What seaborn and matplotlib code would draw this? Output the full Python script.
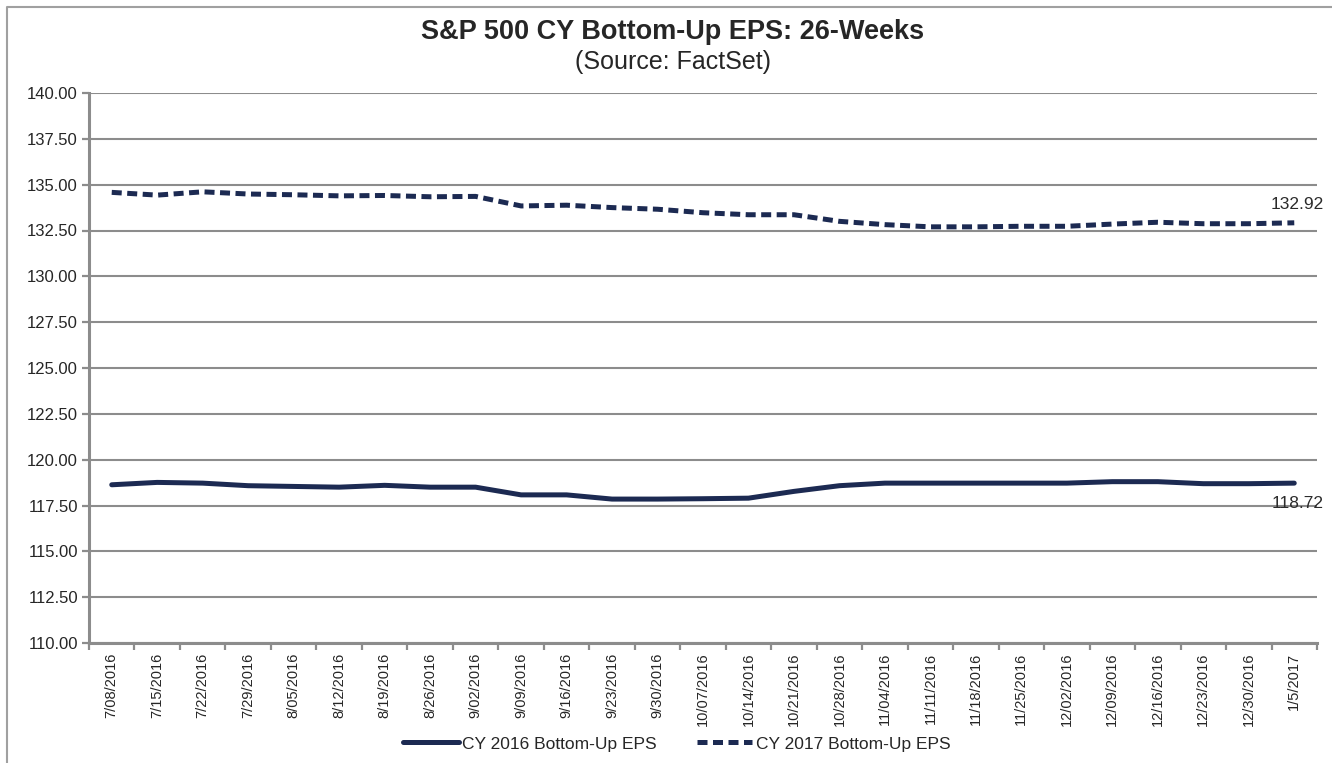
"""S&P 500 calendar-year bottom-up EPS over 26 weeks."""
import matplotlib
matplotlib.use('Agg')
import matplotlib.pyplot as plt
from matplotlib.lines import Line2D
from matplotlib.ticker import FixedLocator, NullFormatter
import pandas as pd
import seaborn as sns

WEEKS = ['7/08/2016', '7/15/2016', '7/22/2016', '7/29/2016', '8/05/2016',
         '8/12/2016', '8/19/2016', '8/26/2016', '9/02/2016', '9/09/2016',
         '9/16/2016', '9/23/2016', '9/30/2016', '10/07/2016', '10/14/2016',
         '10/21/2016', '10/28/2016', '11/04/2016', '11/11/2016', '11/18/2016',
         '11/25/2016', '12/02/2016', '12/09/2016', '12/16/2016', '12/23/2016',
         '12/30/2016', '1/5/2017']

EPS_2016 = [118.63, 118.76, 118.72, 118.58, 118.54, 118.50, 118.60, 118.50,
            118.50, 118.08, 118.08, 117.85, 117.85, 117.87, 117.90, 118.27,
            118.58, 118.72, 118.72, 118.72, 118.72, 118.72, 118.80, 118.80,
            118.69, 118.69, 118.72]

EPS_2017 = [134.58, 134.43, 134.61, 134.49, 134.45, 134.39, 134.41, 134.34,
            134.36, 133.84, 133.88, 133.75, 133.66, 133.47, 133.36, 133.36,
            133.00, 132.82, 132.70, 132.70, 132.73, 132.73, 132.85, 132.95,
            132.87, 132.87, 132.92]

LABEL_2016 = 'CY 2016 Bottom-Up EPS'
LABEL_2017 = 'CY 2017 Bottom-Up EPS'
Y_TICKS = [110.0 + 2.5 * i for i in range(13)]

NAVY = '#1c2a52'
GRID = '#8c8c8c'

sns.set_theme(style='white')
plt.rcParams['font.family'] = ['Liberation Sans', 'DejaVu Sans']

df = pd.concat([
    pd.DataFrame({'week': WEEKS, 'pos': range(len(WEEKS)),
                  'eps': EPS_2016, 'series': LABEL_2016}),
    pd.DataFrame({'week': WEEKS, 'pos': range(len(WEEKS)),
                  'eps': EPS_2017, 'series': LABEL_2017}),
])

fig = plt.figure(figsize=(13.32, 7.63), dpi=100)
ax = fig.add_axes([89 / 1332, 1 - 643 / 763, (1317 - 89) / 1332, 550 / 763])

sns.lineplot(data=df, x='pos', y='eps', hue='series', style='series',
             palette={LABEL_2016: NAVY, LABEL_2017: NAVY},
             dashes={LABEL_2016: '', LABEL_2017: (2.0, 1.1)},
             linewidth=3.6, ax=ax, legend=True)

n = len(WEEKS)
ax.set_xlim(-0.5, n - 0.5)
ax.set_ylim(Y_TICKS[0], Y_TICKS[-1])
ax.set_yticks(Y_TICKS)
ax.set_yticklabels([f'{v:.2f}' for v in Y_TICKS], fontsize=12)
ax.set_xticks(range(n))
ax.set_xticklabels(WEEKS, rotation=90, fontsize=10.5, va='top')
ax.xaxis.set_minor_locator(FixedLocator([i - 0.5 for i in range(n + 1)]))
ax.xaxis.set_minor_formatter(NullFormatter())
ax.tick_params(axis='x', which='major', length=0, pad=7)
ax.tick_params(axis='x', which='minor', length=5, width=1.6, color=GRID,
               direction='out', bottom=True)
ax.tick_params(axis='y', length=5, width=1.6, color=GRID, direction='out',
               left=True, pad=3)
ax.set_xlabel('')
ax.set_ylabel('')

ax.grid(axis='y', color=GRID, linewidth=1.5)
ax.set_axisbelow(True)
for side in ['top', 'right']:
    ax.spines[side].set_visible(False)
for side in ['left', 'bottom']:
    ax.spines[side].set_color(GRID)
    ax.spines[side].set_linewidth(2.2)

ax.annotate(f'{EPS_2017[-1]:.2f}', (n - 1, EPS_2017[-1]),
            xytext=(21, 8), textcoords='offset points', ha='right',
            va='bottom', fontsize=12.5, color='#2b2b2b', annotation_clip=False)
ax.annotate(f'{EPS_2016[-1]:.2f}', (n - 1, EPS_2016[-1]),
            xytext=(21, -9), textcoords='offset points', ha='right',
            va='top', fontsize=12.5, color='#2b2b2b', annotation_clip=False)

handles, labels = ax.get_legend_handles_labels()
ax.get_legend().remove()
fig.legend(handles, labels, loc='center', bbox_to_anchor=(0.508, 0.025),
           ncol=2, frameon=False, fontsize=12.5, handlelength=3.2,
           columnspacing=2.3, handletextpad=0.2)

fig.text(0.505, 1 - 32 / 763, 'S&P 500 CY Bottom-Up EPS: 26-Weeks',
         ha='center', va='center', fontsize=19.5, fontweight='bold')
fig.text(0.505, 1 - 62 / 763, '(Source: FactSet)',
         ha='center', va='center', fontsize=18)

# outer chart frame: only the top and left edges fall inside the picture
fig.lines.append(Line2D([7 / 1332, 7 / 1332, 1], [0, 1 - 7 / 763, 1 - 7 / 763],
                        transform=fig.transFigure, color='#a0a0a0',
                        linewidth=1.5))

fig.savefig('out.png', dpi=100)
